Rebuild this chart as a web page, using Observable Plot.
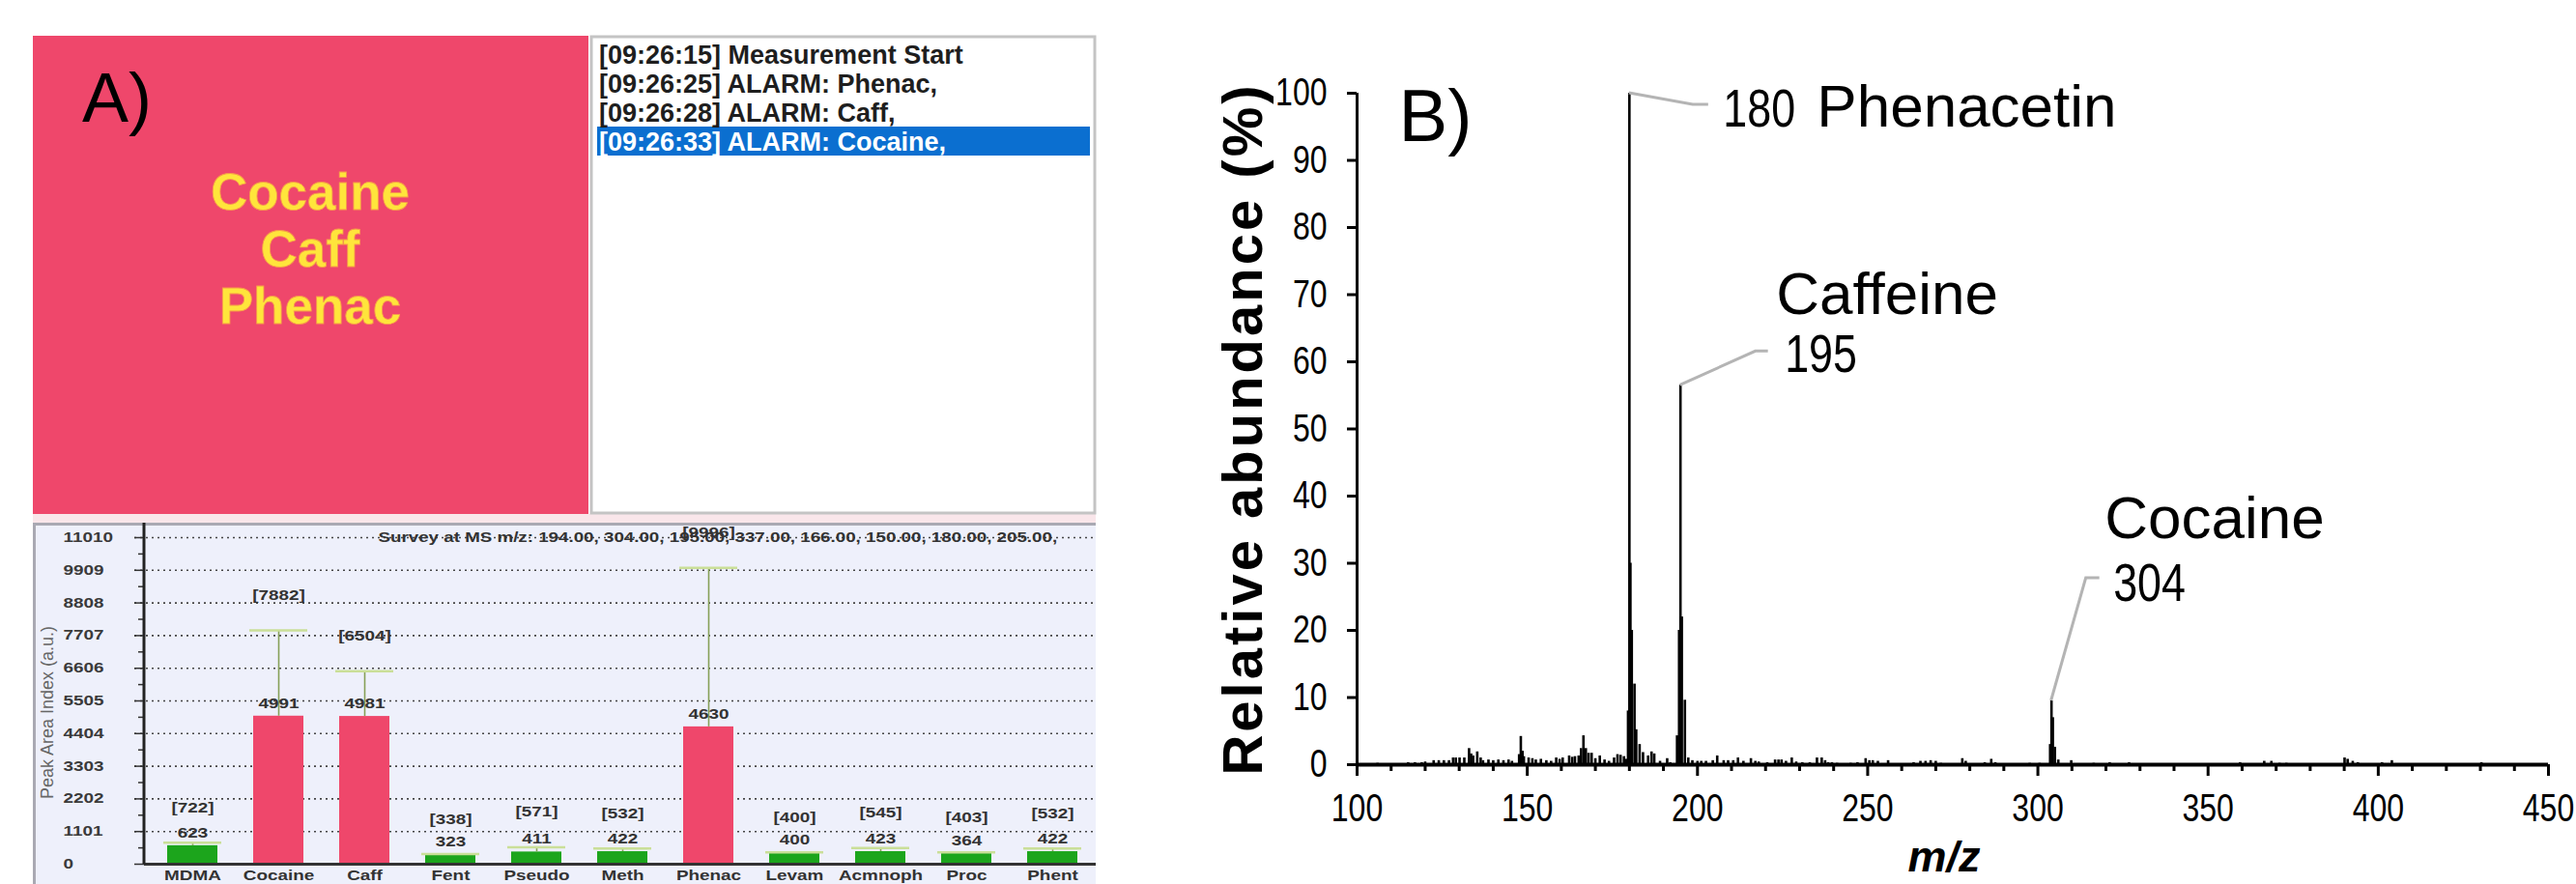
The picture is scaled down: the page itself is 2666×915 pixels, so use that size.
<!DOCTYPE html>
<html><head><meta charset="utf-8">
<script src="https://cdn.jsdelivr.net/npm/d3@7"></script>
<script src="https://cdn.jsdelivr.net/npm/@observablehq/plot@0.6"></script>
<style>
html,body{margin:0;padding:0;background:#fff;}
#root{position:relative;width:2666px;height:915px;overflow:hidden;font-family:"Liberation Sans",Arial,sans-serif;}
#decor{position:absolute;left:0;top:0;}
#panelA{position:absolute;left:34px;top:541px;width:1100px;height:374px;overflow:hidden;background:#eef0fb;box-shadow:inset 3px 3px 0 #a9a9b3;}
#panelB{position:absolute;left:1180px;top:0;width:1486px;height:915px;}
</style></head><body>
<div id="root"><svg id="decor" width="2666" height="915"></svg><div id="panelA"></div><div id="panelB"></div></div>
<script>
// ---------- data ----------
const alarmNames = ["Cocaine", "Caff", "Phenac"];
const logLines = ["[09:26:15] Measurement Start", "[09:26:25] ALARM: Phenac,", "[09:26:28] ALARM: Caff,", "[09:26:33] ALARM: Cocaine,"];
const surveyTitle = "Survey at MS m/z: 194.00, 304.00, 195.00, 337.00, 166.00, 150.00, 180.00, 205.00,";
const barCats = ["MDMA", "Cocaine", "Caff", "Fent", "Pseudo", "Meth", "Phenac", "Levam", "Acmnoph", "Proc", "Phent"];
const barValues = [623, 4991, 4981, 323, 411, 422, 4630, 400, 423, 364, 422];
const barLimits = [722, 7882, 6504, 338, 571, 532, 9996, 400, 545, 403, 532];
const barAlarm = [false, true, true, false, false, false, true, false, false, false, false];
const yTicksA = [0, 1101, 2202, 3303, 4404, 5505, 6606, 7707, 8808, 9909, 11010];
const yMinorA = [550.5, 1651.5, 2752.5, 3853.5, 4954.5, 6055.5, 7156.5, 8257.5, 9358.5, 10459.5];
const yLabelA = "Peak Area Index (a.u.)";

const specMz = [
  106, 115, 117, 119, 120, 122.5, 124, 125.5, 127, 128.2, 129, 130.1, 131.5, 132.9, 133.5, 134.1, 135.3, 136.3, 137, 138.6,
  140, 141.5, 143, 144.5, 145.5, 147.6, 148.1, 148.6, 149, 150.4, 151.5, 152.5, 154, 155.6, 157, 158.5, 159.5, 160.4, 162.3, 163.2,
  164, 165.1, 165.8, 166.5, 167.2, 168, 168.9, 170, 171.3, 172.7, 174, 175.5, 176.5, 177.4, 178.4, 179, 179.6, 180, 180.3, 180.7,
  181.5, 182, 183, 184, 185.5, 186.5, 187.3, 189, 191.1, 192, 194, 194.6, 195, 195.4, 196.3, 197.3, 198.5, 200, 201.1, 202.5,
  204.5, 205.8, 207.7, 209, 210.5, 211.9, 213.5, 215.7, 217, 218, 220.5, 222.8, 223.8, 224.7, 226, 227.7, 229, 230.8, 233, 235.1,
  236.5, 237.5, 238.4, 239.5, 241, 245, 247, 249.4, 250.5, 251.5, 253, 256, 263.5, 265.5, 267, 268.5, 270, 271.5, 277.8, 278.8,
  284.4, 286.3, 287.5, 297.6, 300.5, 303.6, 304, 304.4, 305, 306, 309.8, 316.4, 321.1, 326.8, 359.4, 366.5, 368.6, 371, 373, 390.1,
  391, 392.5, 394, 401.1, 404, 430.3
];
const specAbund = [
  0.2, 0.3, 0.3, 0.3, 0.4, 0.6, 0.6, 0.6, 0.6, 1.0, 1.0, 1.0, 1.0, 2.4, 1.6, 1.3, 1.9, 1.0, 0.6, 0.7,
  0.6, 0.7, 0.6, 0.7, 0.5, 1.5, 4.2, 2.0, 1.2, 1.0, 0.9, 0.7, 0.8, 0.6, 0.5, 1.0, 0.8, 1.0, 1.3, 1.1,
  1.2, 1.3, 2.4, 4.3, 2.4, 1.7, 1.7, 0.9, 1.3, 0.7, 0.5, 1.0, 1.5, 1.4, 1.2, 0.8, 8, 100, 30, 20,
  12, 5.2, 3.0, 1.8, 1.3, 1.9, 1.6, 0.5, 0.9, 0.3, 4.3, 20, 56.5, 22, 9.6, 1.0, 0.6, 0.5, 0.5, 0.5,
  0.6, 1.3, 0.6, 0.6, 0.6, 1.0, 0.5, 0.9, 0.5, 0.4, 0.3, 0.7, 0.7, 0.7, 0.5, 1.0, 0.4, 0.3, 0.3, 1.0,
  1.0, 0.6, 0.3, 0.3, 0.2, 0.2, 0.3, 0.9, 0.6, 0.6, 0.5, 0.6, 0.3, 0.5, 0.5, 0.6, 0.5, 0.2, 0.9, 0.5,
  0.3, 0.8, 0.3, 0.2, 0.2, 3, 9.5, 7, 2.6, 0.7, 0.6, 0.2, 0.3, 0.3, 0.3, 0.5, 0.5, 0.2, 0.2, 1.0,
  0.8, 0.5, 0.3, 0.3, 0.6, 0.3
];
const annotMz = [180, 195, 304];
const annotAb = [100, 56.5, 9.5];
const annotNum = ["180", "195", "304"];
const annotName = ["Phenacetin", "Caffeine", "Cocaine"];
const xTicksB = [100, 150, 200, 250, 300, 350, 400, 450];
const xMinorB = [110, 120, 130, 140, 160, 170, 180, 190, 210, 220, 230, 240, 260, 270, 280, 290, 310, 320, 330, 340, 360, 370, 380, 390, 410, 420, 430, 440];
const yTicksB = [0, 10, 20, 30, 40, 50, 60, 70, 80, 90, 100];
const yLabelB = "Relative abundance (%)";
const xLabelB = "m/z";

// ---------- layout / style (not data) ----------
const FONT = "'Liberation Sans', Arial, sans-serif";
const RED = "#ef476b", GREEN = "#1ca51c";
const numLayout = [[97, 34], [108, -14], [64, -103]];
const nameLayout = [[194, 34], [99, -74], [55, -168]];
const leaderLayout = [[66, 12, 82, 12], [78, -35, 91, -35], [36, -127, 50, -127]];

// ---------- panel A top: screen decorations ----------
const decor = d3.select("#decor");
decor.append("rect").attr("x", 34).attr("y", 37).attr("width", 575).attr("height", 495).attr("fill", RED);
decor.append("rect").attr("x", 34).attr("y", 532).attr("width", 1100).attr("height", 9).attr("fill", "#f9e6ea");
decor.append("text").attr("x", 85).attr("y", 126).attr("font-family", FONT).attr("font-size", 72).attr("fill", "#000").text("A)");
alarmNames.forEach((n, i) => {
  decor.append("text").attr("x", 321).attr("y", 217 + i * 59).attr("text-anchor", "middle")
    .attr("font-family", FONT).attr("font-weight", "bold").attr("font-size", 53)
    .attr("fill", "#ffe53b").attr("stroke", "#f59a4a").attr("stroke-width", 0.8).text(n);
});
decor.append("rect").attr("x", 612).attr("y", 38).attr("width", 521).attr("height", 493).attr("fill", "#fff").attr("stroke", "#c4c4c4").attr("stroke-width", 3);
decor.append("rect").attr("x", 618).attr("y", 131).attr("width", 510).attr("height", 30).attr("fill", "#0b6fd0");
logLines.forEach((t, i) => {
  decor.append("text").attr("x", 620).attr("y", 66 + i * 30).attr("font-family", FONT).attr("font-weight", "bold")
    .attr("font-size", 27).attr("fill", i === logLines.length - 1 ? "#fff" : "#1e1e1e").text(t);
});

// ---------- panel A bottom: bar chart ----------
const bars = barCats.map((c, i) => ({cat: c, value: barValues[i], limit: barLimits[i], color: barAlarm[i] ? RED : GREEN}));
const plotA = Plot.plot({
  width: 1106, height: 374,
  marginLeft: 115, marginRight: 1, marginTop: 15, marginBottom: 21,
  style: {background: "transparent", maxWidth: "none", fontFamily: FONT, overflow: "visible"},
  x: {domain: barCats, paddingInner: 0.42, paddingOuter: 0.234, label: null},
  y: {domain: [0, 11010], label: null},
  color: {type: "identity"},
  marks: [
    Plot.gridY(yTicksA.slice(1), {stroke: "#333", strokeOpacity: 0.9, strokeWidth: 1.6, strokeDasharray: "2,4", insetLeft: -10}),
    Plot.axisY(yTicksA, {tickSize: 10, stroke: "#333", strokeWidth: 1.5, tickFormat: () => ""}),
    Plot.axisY(yMinorA, {tickSize: 6, stroke: "#333", strokeWidth: 1.5, tickFormat: () => ""}),
    Plot.text(yTicksA, {y: d => d, text: d => String(d), frameAnchor: "left", dx: -84, textAnchor: "start", fontWeight: "bold", fontSize: 14, fill: "#3a3a3a"}),
    Plot.text([yLabelA], {frameAnchor: "left", rotate: -90, textAnchor: "middle", dx: -100, dy: 12, fontSize: 18, fill: "#666"}),
    Plot.text([surveyTitle], {frameAnchor: "top-left", dx: 242, dy: 0, textAnchor: "start", lineAnchor: "middle", fontWeight: "bold", fontSize: 13.9, fill: "#333"}),
    Plot.barY(bars, {x: "cat", y: "value", fill: "color"}),
    Plot.ruleX(bars, {x: "cat", y1: "value", y2: "limit", stroke: "#86a057", strokeWidth: 1.6}),
    Plot.tickY(bars, {x: "cat", y: "limit", stroke: "#cadf98", strokeWidth: 2.5, insetLeft: -4, insetRight: -4}),
    Plot.text(bars, {x: "cat", y: "value", text: d => String(d.value), dy: -13, fontWeight: "bold", fontSize: 14, fill: "#333"}),
    Plot.text(bars, {x: "cat", y: "limit", text: d => `[${d.limit}]`, dy: -36, fontWeight: "bold", fontSize: 14, fill: "#333"}),
    Plot.ruleY([0], {stroke: "#333", strokeWidth: 3}),
    (index, scales, values, dim) => {
      const g = d3.create("svg:line").attr("x1", dim.marginLeft).attr("x2", dim.marginLeft)
        .attr("y1", 0).attr("y2", dim.height - dim.marginBottom).attr("stroke", "#222").attr("stroke-width", 3);
      return g.node();
    },
    Plot.axisX({tickSize: 0, tickPadding: 7, fontWeight: "bold", fontSize: 14, fill: "#333"})
  ]
});
document.getElementById("panelA").appendChild(plotA);
// the software screenshot is horizontally stretched: widen its texts
d3.select(plotA).selectAll("text").each(function () {
  if (this.textContent === yLabelA) return;
  const tr = this.getAttribute("transform") || "";
  this.setAttribute("transform", tr + " scale(1.35,1)");
});

// ---------- panel B: mass spectrum ----------
const spec = specMz.map((m, i) => ({mz: m, ab: specAbund[i]}));
const annots = annotMz.map((m, i) => ({mz: m, ab: annotAb[i], num: annotNum[i], name: annotName[i]}));
const plotB = Plot.plot({
  width: 1486, height: 915,
  marginLeft: 224, marginRight: 29, marginTop: 96, marginBottom: 124,
  style: {background: "transparent", maxWidth: "none", fontFamily: FONT, overflow: "visible", color: "#000"},
  x: {domain: [100, 450], label: null},
  y: {domain: [0, 100], label: null},
  marks: [
    Plot.ruleX(spec, {x: "mz", y1: 0, y2: "ab", stroke: "#000", strokeWidth: 2.6}),
    Plot.ruleY([0], {stroke: "#000", strokeWidth: 4}),
    Plot.ruleX([100], {stroke: "#000", strokeWidth: 3}),
    Plot.axisY(yTicksB, {tickSize: 10, tickPadding: 21, fontSize: 40, strokeWidth: 3}),
    Plot.axisX(xTicksB, {tickSize: 12, tickPadding: 18, fontSize: 40, strokeWidth: 3}),
    Plot.axisX(xMinorB, {tickSize: 7, strokeWidth: 3, tickFormat: () => ""}),
    (index, scales) => {
      const g = d3.create("svg:g").attr("fill", "none").attr("stroke", "#b4b4b4").attr("stroke-width", 3);
      annots.forEach((a, i) => {
        const px = scales.x(a.mz), py = scales.y(a.ab), L = leaderLayout[i];
        g.append("path").attr("d", `M${px},${py}L${px + L[0]},${py + L[1]}L${px + L[2]},${py + L[3]}`);
      });
      return g.node();
    },
    ...annots.map((a, i) => Plot.text([a], {x: "mz", y: "ab", text: "num", dx: numLayout[i][0], dy: numLayout[i][1], textAnchor: "start", lineAnchor: "bottom", fontSize: 56})),
    ...annots.map((a, i) => Plot.text([a], {x: "mz", y: "ab", text: "name", dx: nameLayout[i][0], dy: nameLayout[i][1], textAnchor: "start", lineAnchor: "bottom", fontSize: 62})),
    Plot.text(["B)"], {frameAnchor: "top-left", dx: 43, dy: 49, textAnchor: "start", lineAnchor: "bottom", fontSize: 76}),
    Plot.text([yLabelB], {frameAnchor: "left", dx: -117, rotate: -90, textAnchor: "middle", lineAnchor: "middle", fontWeight: "bold", fontSize: 58}),
    Plot.text([xLabelB], {frameAnchor: "bottom", dx: -9, dy: 96, lineAnchor: "middle", fontWeight: "bold", fontStyle: "italic", fontSize: 45})
  ]
});
document.getElementById("panelB").appendChild(plotB);

// narrow numerals (condensed face of the original) and spaced axis title
d3.select(plotB).selectAll("text").each(function () {
  const t = this.textContent;
  if (/^\d+$/.test(t)) {
    const tr = this.getAttribute("transform") || "";
    this.setAttribute("transform", tr + " scale(0.8,1)");
  } else if (t === yLabelB) {
    this.style.letterSpacing = "3px";
  }
});
</script></body></html>
